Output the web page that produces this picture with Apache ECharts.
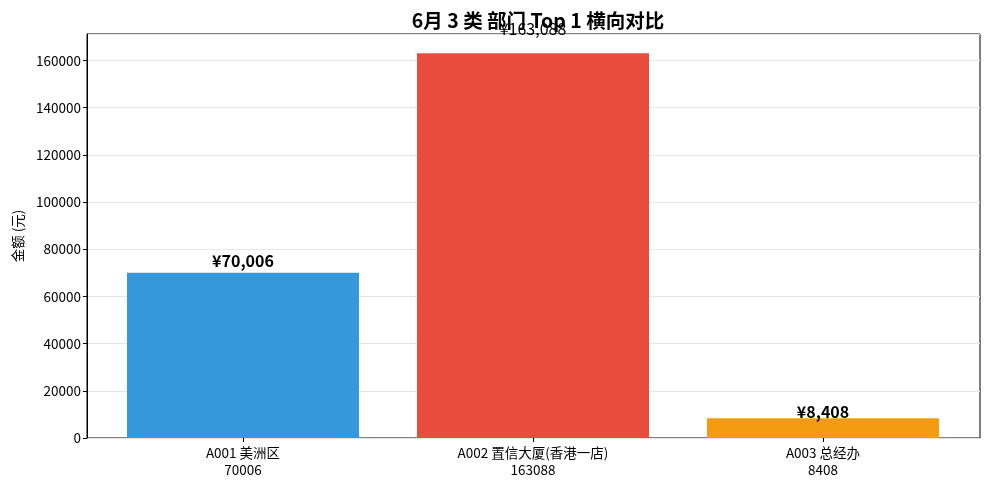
<!DOCTYPE html>
<html>
<head>
<meta charset="utf-8">
<script src="https://cdn.jsdelivr.net/npm/echarts@6/dist/echarts.min.js"></script>
<style>
  html, body { margin: 0; padding: 0; background: #fff; }
  #chartmain { width: 989px; height: 489px; }
</style>
</head>
<body>
<div id="chartmain"></div>
<script>
var titleText = '6月 3 类 部门 Top 1 横向对比';
var deptNames = ['A001 美洲区', 'A002 置信大厦(香港一店)', 'A003 总经办'];
var amounts = [70006, 163088, 8408];
var barColors = ['#3498db', '#e74c3c', '#f39c12'];
var yTicks = [0, 20000, 40000, 60000, 80000, 100000, 120000, 140000, 160000];

window.onload = function () {
  var font = 'Noto Sans CJK SC';
  var yMax = Math.max.apply(null, amounts) * 1.05;

  // 每根柱子的标签位置略有不同
  var labelStyles = [
    { fontWeight: 'bold', distance: 4 },
    { fontWeight: 'normal', distance: 16 },
    { fontWeight: 'bold', distance: -2 }
  ];
  var barData = amounts.map(function (v, i) {
    return { value: v, itemStyle: { color: barColors[i] }, label: labelStyles[i] };
  });

  var option = {
    backgroundColor: '#fff',
    animation: false,
    title: {
      text: titleText,
      left: 533,
      textAlign: 'center',
      top: 6,
      textStyle: { fontFamily: font, fontSize: 19.5, fontWeight: 'bold', color: '#000' }
    },
    grid: [
      // 外框 + y 轴
      { left: 87, right: 9, top: 34, bottom: 51, show: true, borderColor: '#000', borderWidth: 1, backgroundColor: 'transparent' },
      // 柱子所在区域
      { left: 98, right: 21, top: 34, bottom: 51 }
    ],
    xAxis: [
      { gridIndex: 0, type: 'value', show: false, min: 0, max: 1 },
      {
        gridIndex: 1,
        type: 'category',
        data: deptNames,
        axisLine: { show: false },
        axisTick: { show: true, alignWithLabel: true, inside: false, length: 4, lineStyle: { color: '#000' } },
        axisLabel: {
          color: '#000', fontFamily: font, fontSize: 13.5, margin: 6, lineHeight: 17,
          interval: 0,
          formatter: function (v, i) { return v + '\n' + amounts[i]; }
        }
      }
    ],
    yAxis: [
      {
        gridIndex: 0,
        type: 'value',
        min: 0,
        max: yMax,
        interval: 20000,
        name: '金额 (元)',
        nameLocation: 'middle',
        nameGap: 62,
        nameTextStyle: { fontFamily: font, fontSize: 13.5, color: '#000' },
        axisLine: { show: true, lineStyle: { color: '#000' } },
        axisTick: { show: true, length: 4, lineStyle: { color: '#000' } },
        axisLabel: {
          color: '#000', fontFamily: font, fontSize: 13.5, margin: 6,
          showMaxLabel: false,
          formatter: function (v) { return yTicks.indexOf(v) >= 0 ? String(v) : ''; }
        },
        splitLine: { show: true, lineStyle: { color: '#e6e6e6', width: 1 } }
      },
      { gridIndex: 1, type: 'value', min: 0, max: yMax, show: false }
    ],
    series: [
      {
        type: 'bar',
        xAxisIndex: 1,
        yAxisIndex: 1,
        barWidth: 232,
        data: barData,
        label: {
          show: true,
          position: 'top',
          color: '#000',
          fontFamily: font,
          fontSize: 16,
          formatter: function (p) { return '¥' + p.value.toLocaleString('en-US'); }
        }
      }
    ]
  };

  var myChart = echarts.init(document.getElementById('chartmain'));
  myChart.setOption(option);
};
</script>
</body>
</html>
